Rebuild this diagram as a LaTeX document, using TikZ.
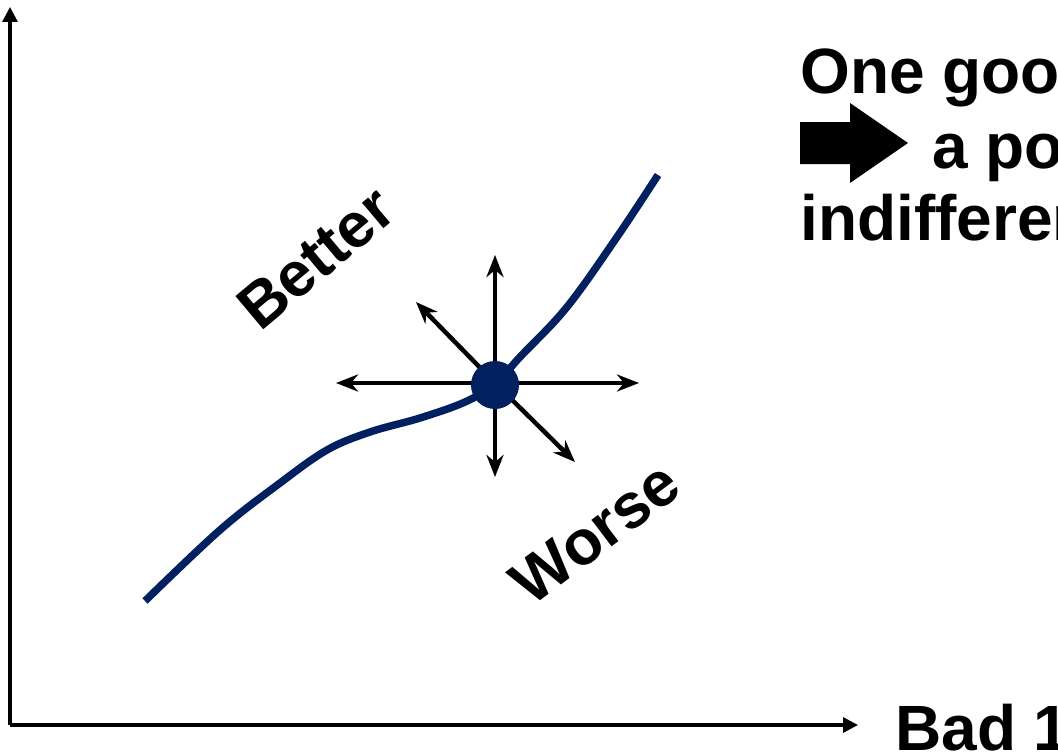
\documentclass[tikz,border=0pt]{standalone}
\usepackage{fontspec}
\setmainfont{Liberation Sans}
\usetikzlibrary{arrows.meta}
\definecolor{navy}{RGB}{0,32,96}
\tikzset{
  axis/.style={line width=3.2pt,-{Triangle[length=15pt,width=15pt]}},
  dirarrow/.style={line width=4.5pt,-{Stealth[length=22pt,width=17pt,inset=7pt]}},
  bigtext/.style={font=\fontsize{64}{74}\selectfont\bfseries,inner sep=0pt},
  labtext/.style={font=\fontsize{63}{72}\selectfont\bfseries,inner sep=0pt},
  curve/.style={navy,line width=7.5pt},
}
\begin{document}
\begin{tikzpicture}[x=1pt,y=-1pt]
\useasboundingbox (0,0) rectangle (1058,752);
\clip (0,0) rectangle (1058,752);
% axes
\coordinate (origin) at (10,725);
\coordinate (ytop) at (10,7);
\coordinate (xend) at (858,725);
\draw[axis] (origin) -- (ytop);
\draw[axis] (origin) -- (xend);
% indifference curve
\draw[curve] plot[smooth,tension=0.6] coordinates {(145,601) (220,530) (280,483) (327,450) (370,432) (420,418) (465,402) (495,384) (520,357) (567,307) (617,237) (658,175)};
% direction arrows
\coordinate (c) at (495,383);
\coordinate (tR) at (639,383);
\coordinate (tL) at (336,383);
\coordinate (tU) at (495,255);
\coordinate (tD) at (495,477);
\coordinate (tNW) at (416,302);
\coordinate (tSE) at (575,462);
\foreach \t in {tR,tL,tU,tD,tNW,tSE} \draw[dirarrow] (c) -- (\t);
\node[circle,fill=navy,minimum size=48pt,inner sep=0pt] (dot) at (495,385) {};
% labels
\node[labtext,rotate=40] (better) at (316,258) {Better};
\node[labtext,rotate=37] (worse) at (595,533) {Worse};
% right text
\node[bigtext,anchor=base west] (l1) at (800,93) {One goo};
\fill (800,122) -- (850,122) -- (850,103) -- (908,143) -- (850,183) -- (850,164) -- (800,164) -- cycle;
\node[bigtext,anchor=base west] (l2) at (932,168) {a po};
\node[bigtext,anchor=base west] (l3) at (800,240) {indifferen};
\node[bigtext,anchor=base west] (xlab) at (895,750) {Bad 1};
\end{tikzpicture}
\end{document}
